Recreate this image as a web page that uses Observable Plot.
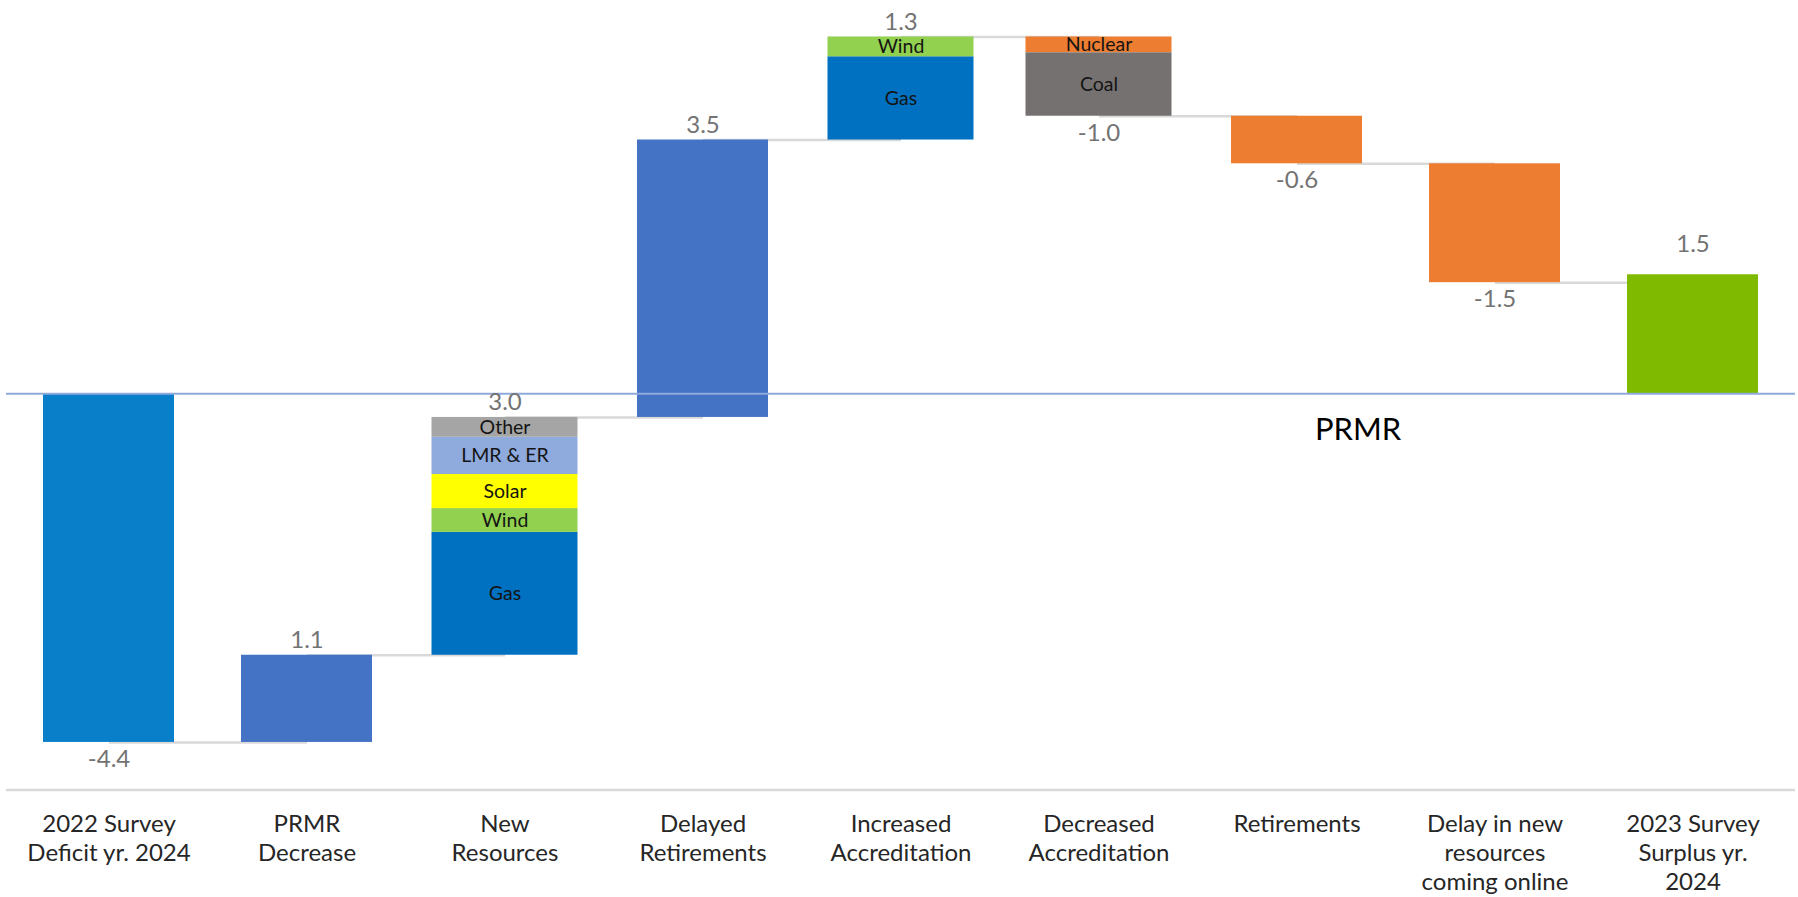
<!DOCTYPE html>
<html>
<head>
<meta charset="utf-8">
<script src="https://cdn.jsdelivr.net/npm/d3@7"></script>
<script src="https://cdn.jsdelivr.net/npm/@observablehq/plot@0.6"></script>
<style>
  body { margin: 0; background: #fff; }
  #chart svg { display: block; }
</style>
</head>
<body>
<div id="chart"></div>
<script>
// Waterfall of planning reserve position, 2022 survey deficit to 2023 survey surplus (GW)
const categories = [
  "2022 Survey\nDeficit yr. 2024",
  "PRMR\nDecrease",
  "New\nResources",
  "Delayed\nRetirements",
  "Increased\nAccreditation",
  "Decreased\nAccreditation",
  "Retirements",
  "Delay in new\nresources\ncoming online",
  "2023 Survey\nSurplus yr.\n2024"
];
const stepValues = [-4.4, 1.1, 3.0, 3.5, 1.3, -1.0, -0.6, -1.5, 1.5];
const stepKinds = ["total", "delta", "delta", "delta", "delta", "delta", "delta", "delta", "total"];
// null = the step is drawn as stacked components below
const stepColors = ["#0a7fc9", "#4472c4", null, "#4472c4", null, null, "#ed7d31", "#ed7d31", "#7fba00"];

const newResourceParts = ["Gas", "Wind", "Solar", "LMR & ER", "Other"];
const newResourceValues = [1.55, 0.30, 0.43, 0.47, 0.25];
const newResourceColors = ["#0070c0", "#92d050", "#ffff00", "#8faadc", "#a5a5a5"];

const increasedParts = ["Gas", "Wind"];
const increasedValues = [1.05, 0.25];
const increasedColors = ["#0070c0", "#92d050"];

const decreasedParts = ["Nuclear", "Coal"];
const decreasedValues = [0.2, 0.8];
const decreasedColors = ["#ed7d31", "#767171"];

// Running totals for the waterfall
const steps = [];
let running = 0;
categories.forEach((category, i) => {
  const value = stepValues[i];
  const start = stepKinds[i] === "total" ? 0 : running;
  const end = start + value;
  running = end;
  steps.push({category, value, start, end, kind: stepKinds[i], color: stepColors[i], index: i});
});

function stackParts(category, parts, values, colors) {
  const s = steps.find(d => d.category === category);
  const sign = Math.sign(s.value);
  let y = s.start;
  return parts.map((part, i) => {
    const y1 = y;
    y += sign * values[i];
    return {category, part, y1, y2: y, color: colors[i]};
  });
}

const segments = [
  ...stackParts(categories[2], newResourceParts, newResourceValues, newResourceColors),
  ...stackParts(categories[4], increasedParts, increasedValues, increasedColors),
  ...stackParts(categories[5], decreasedParts, decreasedValues, decreasedColors)
];

const connectors = steps.slice(0, -1).map((d, i) => ({
  from: d.category, to: steps[i + 1].category, level: d.end
}));

const plainSteps = steps.filter(d => d.color);
const label = d => d.value.toFixed(1);
const upLabels = steps.filter(d => d.value > 0 && d.kind === "delta");
const downLabels = steps.filter(d => d.value < 0);
const finalLabels = steps.filter(d => d.value > 0 && d.kind === "total");

const chart = Plot.plot({
  width: 1798,
  height: 897,
  marginTop: 0,
  marginBottom: 107.5,
  marginLeft: 6,
  marginRight: 3,
  style: {fontFamily: "Lato, sans-serif", fontSize: "24px", background: "#fff", overflow: "visible"},
  x: {domain: categories, paddingInner: 0.34, paddingOuter: 0.17, axis: null},
  y: {domain: [-5, 4.96], axis: null},
  marks: [
    // horizontal connectors between consecutive steps
    Plot.link(connectors, {x1: "from", x2: "to", y1: "level", y2: "level", stroke: "#d9d9d9", strokeWidth: 2.5}),
    // category axis line
    Plot.ruleY([-5], {stroke: "#d9d9d9", strokeWidth: 2.5}),
    Plot.barY(plainSteps, {x: "category", y1: "start", y2: "end", fill: "color"}),
    Plot.barY(segments, {x: "category", y1: "y1", y2: "y2", fill: "color", insetLeft: -7.5, insetRight: -7.5}),
    // PRMR reference line
    Plot.ruleY([0], {stroke: "#8faadc", strokeWidth: 2}),
    Plot.text(segments, {x: "category", y: d => (d.y1 + d.y2) / 2, text: "part", fontSize: 19.5, fill: "#141414"}),
    Plot.text(upLabels, {x: "category", y: "end", text: label, dy: -15, fontSize: 24, fill: "#737373"}),
    Plot.text(downLabels, {x: "category", y: "end", text: label, dy: 17, fontSize: 24, fill: "#737373"}),
    Plot.text(finalLabels, {x: "category", y: "end", text: label, dy: -30, fontSize: 24, fill: "#737373"}),
    Plot.text(["PRMR"], {x: () => categories[6], y: () => 0, dx: 61, dy: 36, text: d => d, fontSize: 31, fill: "#000"}),
    // category labels under the axis line
    Plot.text(categories, {x: d => d, frameAnchor: "bottom", text: d => d, lineAnchor: "top", dy: 22, lineHeight: 1.2, fontSize: 24, fill: "#262626"})
  ]
});

document.getElementById("chart").append(chart);
</script>
</body>
</html>
